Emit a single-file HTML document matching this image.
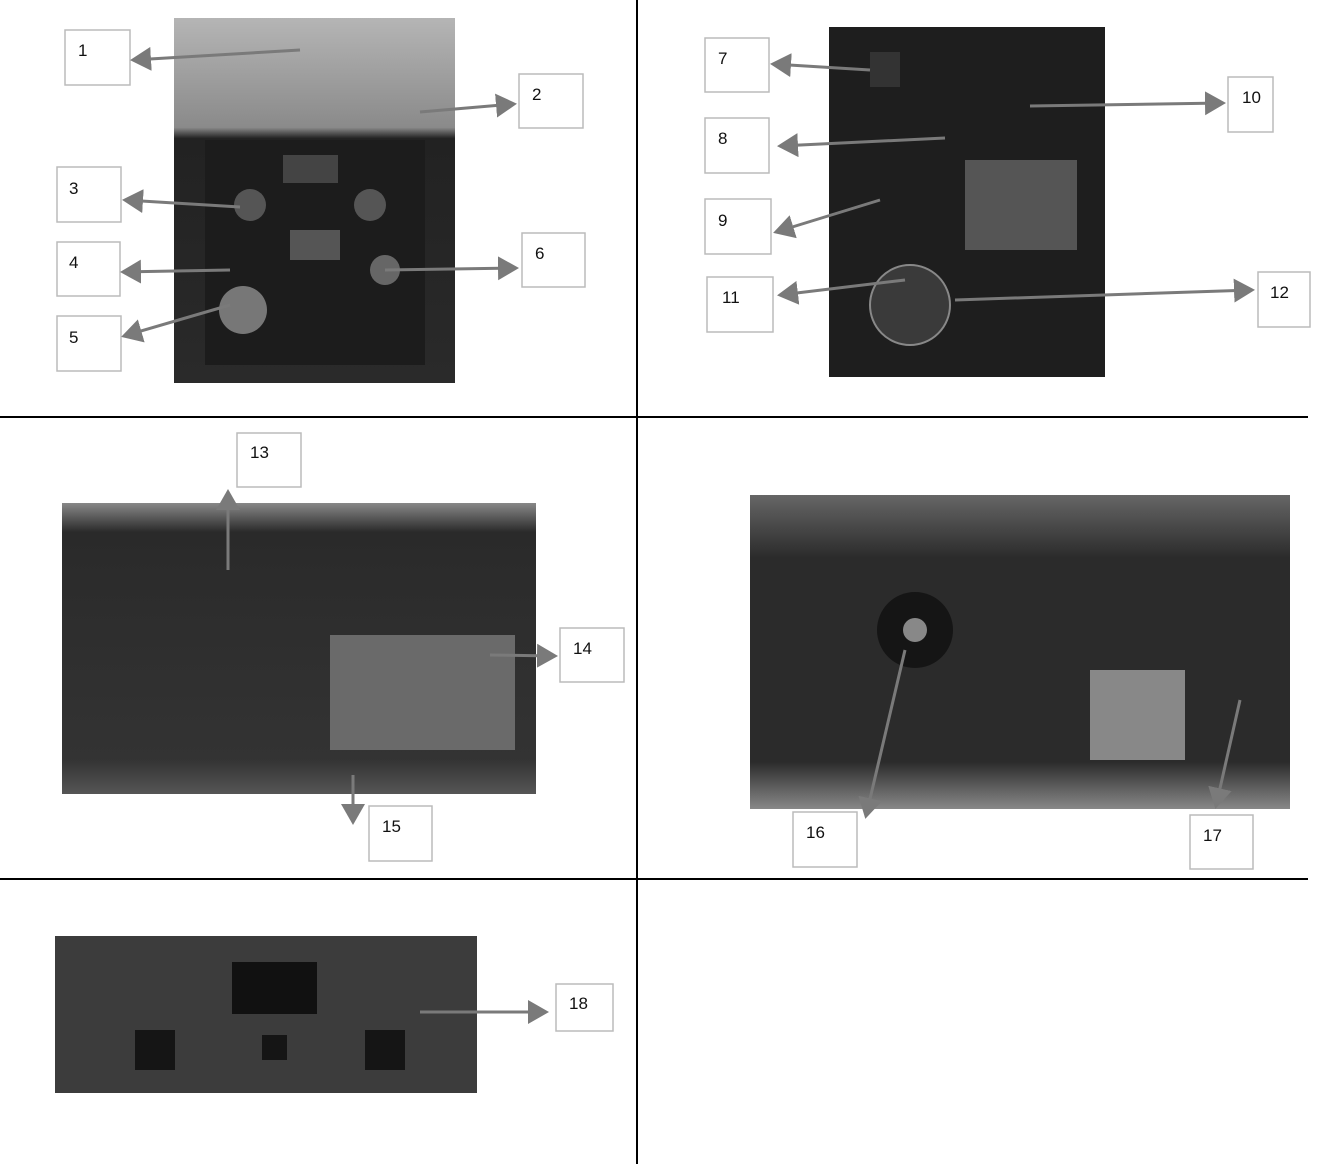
<!DOCTYPE html>
<html><head><meta charset="utf-8"><style>
html,body{margin:0;padding:0;background:#fff;}
svg{display:block;}
text{font-family:"Liberation Sans",sans-serif;font-size:17px;fill:#111;}
</style></head><body>
<svg width="1330" height="1164" viewBox="0 0 1330 1164" xmlns="http://www.w3.org/2000/svg">
<defs>
<marker id="a" markerWidth="8" markerHeight="8" refX="6" refY="4" orient="auto" markerUnits="strokeWidth">
<path d="M0,0 L7,4 L0,8 Z" fill="#7a7a7a"/></marker>
<linearGradient id="g1" x1="0" y1="0" x2="0" y2="1"><stop offset="0" stop-color="#b5b5b5"/><stop offset="0.3" stop-color="#8a8a8a"/><stop offset="0.33" stop-color="#222"/><stop offset="1" stop-color="#2a2a2a"/></linearGradient>
<linearGradient id="g3" x1="0" y1="0" x2="0" y2="1"><stop offset="0" stop-color="#888"/><stop offset="0.1" stop-color="#2a2a2a"/><stop offset="0.88" stop-color="#333"/><stop offset="1" stop-color="#555"/></linearGradient>
<linearGradient id="g4" x1="0" y1="0" x2="0" y2="1"><stop offset="0" stop-color="#666"/><stop offset="0.2" stop-color="#2b2b2b"/><stop offset="0.85" stop-color="#2b2b2b"/><stop offset="1" stop-color="#888"/></linearGradient>
</defs>
<!-- grid -->
<line x1="637" y1="0" x2="637" y2="1164" stroke="#000" stroke-width="2"/>
<line x1="0" y1="417" x2="1308" y2="417" stroke="#000" stroke-width="2"/>
<line x1="0" y1="879" x2="1308" y2="879" stroke="#000" stroke-width="2"/>
<!-- photos -->
<rect x="174" y="18" width="281" height="365" fill="url(#g1)"/>
<rect x="205" y="140" width="220" height="225" fill="#1c1c1c"/>
<rect x="283" y="155" width="55" height="28" fill="#444"/>
<circle cx="250" cy="205" r="16" fill="#555"/><circle cx="370" cy="205" r="16" fill="#555"/>
<circle cx="243" cy="310" r="24" fill="#777"/><circle cx="385" cy="270" r="15" fill="#666"/>
<rect x="290" y="230" width="50" height="30" fill="#555"/>
<rect x="829" y="27" width="276" height="350" fill="#1e1e1e"/>
<rect x="965" y="160" width="112" height="90" fill="#555"/>
<circle cx="910" cy="305" r="40" fill="#3a3a3a" stroke="#888" stroke-width="2"/>
<rect x="870" y="52" width="30" height="35" fill="#333"/>
<rect x="62" y="503" width="474" height="291" fill="url(#g3)"/>
<rect x="330" y="635" width="185" height="115" fill="#6a6a6a"/>
<rect x="750" y="495" width="540" height="314" fill="url(#g4)"/>
<circle cx="915" cy="630" r="38" fill="#151515"/><circle cx="915" cy="630" r="12" fill="#888"/>
<rect x="1090" y="670" width="95" height="90" fill="#888"/>
<rect x="55" y="936" width="422" height="157" fill="#3c3c3c"/>
<rect x="232" y="962" width="85" height="52" fill="#111"/>
<rect x="135" y="1030" width="40" height="40" fill="#151515"/><rect x="365" y="1030" width="40" height="40" fill="#151515"/>
<rect x="262" y="1035" width="25" height="25" fill="#151515"/>
<!-- label boxes -->
<g fill="#fff" stroke="#bbb" stroke-width="1.5">
<rect x="65" y="30" width="65" height="55"/>
<rect x="519" y="74" width="64" height="54"/>
<rect x="57" y="167" width="64" height="55"/>
<rect x="57" y="242" width="63" height="54"/>
<rect x="57" y="316" width="64" height="55"/>
<rect x="522" y="233" width="63" height="54"/>
<rect x="705" y="38" width="64" height="54"/>
<rect x="705" y="118" width="64" height="55"/>
<rect x="705" y="199" width="66" height="55"/>
<rect x="1228" y="77" width="45" height="55"/>
<rect x="707" y="277" width="66" height="55"/>
<rect x="1258" y="272" width="52" height="55"/>
<rect x="237" y="433" width="64" height="54"/>
<rect x="560" y="628" width="64" height="54"/>
<rect x="369" y="806" width="63" height="55"/>
<rect x="793" y="812" width="64" height="55"/>
<rect x="1190" y="815" width="63" height="54"/>
<rect x="556" y="984" width="57" height="47"/>
</g>
<text x="78" y="56">1</text><text x="532" y="100">2</text><text x="69" y="194">3</text>
<text x="69" y="268">4</text><text x="69" y="343">5</text><text x="535" y="259">6</text>
<text x="718" y="64">7</text><text x="718" y="144">8</text><text x="718" y="226">9</text>
<text x="1242" y="103">10</text><text x="722" y="303">11</text><text x="1270" y="298">12</text>
<text x="250" y="458">13</text><text x="573" y="654">14</text><text x="382" y="832">15</text>
<text x="806" y="838">16</text><text x="1203" y="841">17</text><text x="569" y="1009">18</text>
<!-- arrows -->
<g stroke="#7a7a7a" stroke-width="3" fill="none" marker-end="url(#a)">
<line x1="300" y1="50" x2="133" y2="60"/>
<line x1="420" y1="112" x2="514" y2="104"/>
<line x1="240" y1="207" x2="125" y2="200"/>
<line x1="230" y1="270" x2="123" y2="272"/>
<line x1="230" y1="305" x2="124" y2="336"/>
<line x1="385" y1="270" x2="516" y2="268"/>
<line x1="870" y1="70" x2="773" y2="64"/>
<line x1="945" y1="138" x2="780" y2="146"/>
<line x1="880" y1="200" x2="776" y2="232"/>
<line x1="1030" y1="106" x2="1223" y2="103"/>
<line x1="905" y1="280" x2="780" y2="295"/>
<line x1="955" y1="300" x2="1252" y2="290"/>
<line x1="228" y1="570" x2="228" y2="492"/>
<line x1="490" y1="655" x2="555" y2="656"/>
<line x1="353" y1="775" x2="353" y2="822"/>
<line x1="905" y1="650" x2="866" y2="816"/>
<line x1="1240" y1="700" x2="1216" y2="806"/>
<line x1="420" y1="1012" x2="546" y2="1012"/>
</g>
</svg>
</body></html>
